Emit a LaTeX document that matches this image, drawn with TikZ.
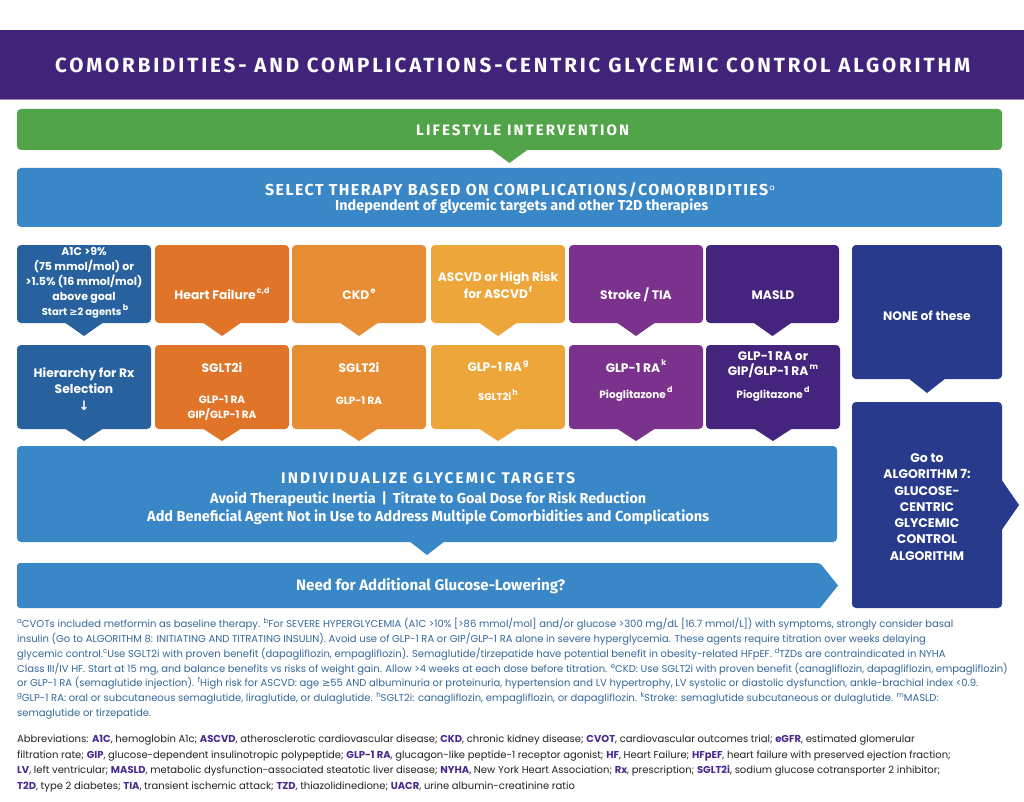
\documentclass[tikz,border=0pt]{standalone}
\usepackage{fontspec}
\usepackage{graphicx}
\setmainfont{Poppins}
\newfontfamily\capsf[LetterSpace=14]{Fira Sans}
\newfontfamily\capsg[LetterSpace=9]{Fira Sans}
\newfontfamily\condf{Fira Sans}
\newfontfamily\symf{DejaVu Sans}
\usetikzlibrary{calc}
\definecolor{hdr}{HTML}{41247A}
\definecolor{grn}{HTML}{52A448}
\definecolor{lblue}{HTML}{3A87C8}
\definecolor{dblue}{HTML}{28629E}
\definecolor{orA}{HTML}{E07428}
\definecolor{orB}{HTML}{E78E34}
\definecolor{orC}{HTML}{EDA63A}
\definecolor{purA}{HTML}{7A328C}
\definecolor{purB}{HTML}{44247C}
\definecolor{navy}{HTML}{283A8C}
\definecolor{fnc}{HTML}{35689A}
\definecolor{abtext}{HTML}{222222}
\definecolor{abp}{HTML}{4A2A90}
\newcommand\sps[1]{\kern1.2pt\raisebox{0.5em}{\fontsize{8pt}{8pt}\selectfont #1}}
\newcommand\fs[1]{\raisebox{0.4em}{\fontsize{7pt}{7pt}\selectfont #1}}
\newcommand\ab[1]{\textcolor{abp}{\textbf{#1}}}
\newcommand\gesym{{\symf ≥}}
\newcommand\mkptr[4]{\fill[#1] ($(#2)+(-#3,-1)$) -- ($(#2)+(0,#4)$) -- ($(#2)+(#3,-1)$) -- cycle;}
\begin{document}
\begin{tikzpicture}[x=1pt,y=-1pt,
  cbox/.style={rounded corners=4pt, inner sep=0pt, outer sep=0pt, anchor=north west, draw=none},
  wt/.style={text=white, font=\bfseries, align=center, inner sep=0pt},
  cond/.style={text=white, inner sep=0pt, anchor=west}]
\useasboundingbox (0,0) rectangle (1024,802);
\fill[white] (0,0) rectangle (1024,802);
% header
\fill[hdr] (0,30) rectangle (1024,100);
\draw[line width=1pt, draw=hdr!55!white] (0,99.5) -- (1024,99.5);
\node[cond] (title) at (55,65) {\resizebox{915pt}{!}{\capsf\bfseries COMORBIDITIES- AND COMPLICATIONS-CENTRIC GLYCEMIC CONTROL ALGORITHM}};
% lifestyle
\node[cbox, fill=grn, minimum width=985pt, minimum height=41pt] (life) at (17,109) {};
\mkptr{grn}{life.south}{19}{13}
\node[cond] (lifet) at (416,130) {\resizebox{213pt}{!}{\capsf\bfseries LIFESTYLE INTERVENTION}};
% select
\node[cbox, fill=lblue, minimum width=985pt, minimum height=59pt] (sel) at (17,168) {};
\node[cond] (selt) at (265,190) {\resizebox{503pt}{!}{\capsg\bfseries SELECT THERAPY BASED ON COMPLICATIONS/COMORBIDITIES}\sps{a}};
\node[cond] (selu) at (335,206.5) {\resizebox{373pt}{!}{\condf\bfseries Independent of glycemic targets and other T2D therapies}};
% row 1
\node[cbox, fill=dblue, minimum width=134pt, minimum height=78pt] (r1a) at (17,245) {};
\node[cbox, fill=orA, minimum width=134pt, minimum height=78pt] (r1b) at (155,245) {};
\node[cbox, fill=orB, minimum width=134pt, minimum height=78pt] (r1c) at (292,245) {};
\node[cbox, fill=orC, minimum width=134pt, minimum height=78pt] (r1d) at (431,245) {};
\node[cbox, fill=purA, minimum width=134pt, minimum height=78pt] (r1e) at (569,245) {};
\node[cbox, fill=purB, minimum width=133pt, minimum height=78pt] (r1f) at (706,245) {};
\node[cbox, fill=navy, minimum width=150pt, minimum height=134pt] (none) at (852,245) {};
\mkptr{dblue}{r1a.south}{20}{13}
\mkptr{orA}{r1b.south}{20}{13}
\mkptr{orB}{r1c.south}{20}{13}
\mkptr{orC}{r1d.south}{20}{13}
\mkptr{purA}{r1e.south}{20}{13}
\mkptr{purB}{r1f.south}{20}{13}
\mkptr{navy}{none.south}{19}{14}
\node[wt, font=\bfseries\fontsize{11pt}{14.8pt}\selectfont] (r1at) at (84,275.5) {A1C >9\%\\(75 mmol/mol) or\\>1.5\% (16 mmol/mol)\\above goal};
\node[wt, font=\bfseries\fontsize{10pt}{12pt}\selectfont] (r1as) at (85,311) {Start {\symf\bfseries ≥}2 agents\sps{b}};
\node[wt, font=\bfseries\fontsize{12.3pt}{15.5pt}\selectfont] (r1bt) at (222,294) {Heart Failure\sps{c,d}};
\node[wt, font=\bfseries\fontsize{12.3pt}{15.5pt}\selectfont] (r1ct) at (359,294) {CKD\sps{e}};
\node[wt, font=\bfseries\fontsize{12.3pt}{15.5pt}\selectfont] (r1dt) at (498,285) {ASCVD or High Risk\\for ASCVD\sps{f}};
\node[wt, font=\bfseries\fontsize{12.3pt}{15.5pt}\selectfont] (r1et) at (636,295) {Stroke / TIA};
\node[wt, font=\bfseries\fontsize{12.3pt}{15.5pt}\selectfont] (r1ft) at (773,295) {MASLD};
\node[wt, font=\bfseries\fontsize{12.3pt}{15.5pt}\selectfont] (nonet) at (927,316) {NONE of these};
% row 2
\node[cbox, fill=dblue, minimum width=134pt, minimum height=84pt] (r2a) at (17,345) {};
\node[cbox, fill=orA, minimum width=134pt, minimum height=84pt] (r2b) at (155,345) {};
\node[cbox, fill=orB, minimum width=134pt, minimum height=84pt] (r2c) at (292,345) {};
\node[cbox, fill=orC, minimum width=134pt, minimum height=84pt] (r2d) at (431,345) {};
\node[cbox, fill=purA, minimum width=134pt, minimum height=84pt] (r2e) at (569,345) {};
\node[cbox, fill=purB, minimum width=134pt, minimum height=84pt] (r2f) at (706,345) {};
\mkptr{dblue}{r2a.south}{20}{12}
\mkptr{orA}{r2b.south}{20}{12}
\mkptr{orB}{r2c.south}{20}{12}
\mkptr{orC}{r2d.south}{20}{12}
\mkptr{purA}{r2e.south}{20}{12}
\mkptr{purB}{r2f.south}{20}{12}
\node[wt, font=\bfseries\fontsize{12.3pt}{16pt}\selectfont] (r2at) at (84,381) {Hierarchy for Rx\\Selection};
\node[wt, font=\bfseries\fontsize{13pt}{15pt}\selectfont] (r2aa) at (84,406) {{\symf\bfseries ↓}};
\node[wt, font=\bfseries\fontsize{12.3pt}{15pt}\selectfont] (r2bt) at (222,368) {SGLT2i};
\node[wt, font=\bfseries\fontsize{10.5pt}{15pt}\selectfont] (r2bs) at (222,408.5) {GLP-1 RA\\GIP/GLP-1 RA};
\node[wt, font=\bfseries\fontsize{12.3pt}{15pt}\selectfont] (r2ct) at (359,368) {SGLT2i};
\node[wt, font=\bfseries\fontsize{10.5pt}{15pt}\selectfont] (r2cs) at (359,401) {GLP-1 RA};
\node[wt, font=\bfseries\fontsize{12.3pt}{15pt}\selectfont] (r2dt) at (498,366) {GLP-1 RA\sps{g}};
\node[wt, font=\bfseries\fontsize{10pt}{15pt}\selectfont] (r2ds) at (498,395) {SGLT2i\sps{h}};
\node[wt, font=\bfseries\fontsize{12.3pt}{15pt}\selectfont] (r2et) at (636,366) {GLP-1 RA\sps{k}};
\node[wt, font=\bfseries\fontsize{10.5pt}{15pt}\selectfont] (r2es) at (636,394) {Pioglitazone\sps{d}};
\node[wt, font=\bfseries\fontsize{12.3pt}{15pt}\selectfont] (r2ft) at (773,365) {GLP-1 RA or\\GIP/GLP-1 RA\sps{m}};
\node[wt, font=\bfseries\fontsize{10.5pt}{15pt}\selectfont] (r2fs) at (773,394) {Pioglitazone\sps{d}};
% go to
\node[cbox, fill=navy, minimum width=150pt, minimum height=206pt] (goto) at (852,402) {};
\fill[navy] ($(goto.east)+(-1,-26)$) -- ($(goto.east)+(17,0)$) -- ($(goto.east)+(-1,26)$) -- cycle;
\node[wt, font=\bfseries\fontsize{12.5pt}{16.3pt}\selectfont] (gotot) at (927,507) {Go to\\ALGORITHM 7:\\GLUCOSE-\\CENTRIC\\GLYCEMIC\\CONTROL\\ALGORITHM};
% individualize
\node[cbox, fill=lblue, minimum width=820pt, minimum height=96pt] (ind) at (17,446) {};
\mkptr{lblue}{ind.south}{18}{13}
\node[cond] (indt) at (281,478) {\resizebox{294pt}{!}{\capsf\bfseries INDIVIDUALIZE GLYCEMIC TARGETS}};
\node[cond] (inda) at (210,499) {\resizebox{436pt}{!}{\condf\bfseries Avoid Therapeutic Inertia \,|\, Titrate to Goal Dose for Risk Reduction}};
\node[cond] (indb) at (147,517) {\resizebox{562pt}{!}{\condf\bfseries Add Beneficial Agent Not in Use to Address Multiple Comorbidities and Complications}};
% need
\fill[lblue, rounded corners=3pt] (17,563) -- (820,563) [sharp corners] -- (838,585.5) -- (820,608) [rounded corners=3pt] -- (17,608) -- cycle;
\node[cond] (need) at (296,586) {\resizebox{269pt}{!}{\condf\bfseries Need for Additional Glucose-Lowering?}};
% footnotes
\node[anchor=north west, align=left, inner sep=0pt, text=fnc, font=\fontsize{10pt}{14.8pt}\selectfont] (fn) at (17,618) {%
\fs{a}CVOTs included metformin as baseline therapy. \fs{b}For SEVERE HYPERGLYCEMIA (A1C >10\% [>86 mmol/mol] and/or glucose >300 mg/dL [16.7 mmol/L]) with symptoms, strongly consider basal\\
insulin (Go to ALGORITHM 8: INITIATING AND TITRATING INSULIN). Avoid use of GLP-1 RA or GIP/GLP-1 RA alone in severe hyperglycemia. These agents require titration over weeks delaying\\
glycemic control.\fs{c}Use SGLT2i with proven benefit (dapagliflozin, empagliflozin). Semaglutide/tirzepatide have potential benefit in obesity-related HFpEF. \fs{d}TZDs are contraindicated in NYHA\\
Class III/IV HF. Start at 15 mg, and balance benefits vs risks of weight gain. Allow >4 weeks at each dose before titration. \fs{e}CKD: Use SGLT2i with proven benefit (canagliflozin, dapagliflozin, empagliflozin)\\
or GLP-1 RA (semaglutide injection). \fs{f}High risk for ASCVD: age \gesym55 AND albuminuria or proteinuria, hypertension and LV hypertrophy, LV systolic or diastolic dysfunction, ankle-brachial index <0.9.\\
\fs{g}GLP-1 RA: oral or subcutaneous semaglutide, liraglutide, or dulaglutide. \fs{h}SGLT2i: canagliflozin, empagliflozin, or dapagliflozin. \fs{k}Stroke: semaglutide subcutaneous or dulaglutide. \fs{m}MASLD:\\
semaglutide or tirzepatide.};
\node[anchor=north west, align=left, inner sep=0pt, text=abtext, font=\fontsize{10pt}{15.5pt}\selectfont] (abbr) at (17,735) {%
Abbreviations: \ab{A1C}, hemoglobin A1c; \ab{ASCVD}, atherosclerotic cardiovascular disease; \ab{CKD}, chronic kidney disease; \ab{CVOT}, cardiovascular outcomes trial; \ab{eGFR}, estimated glomerular\\
filtration rate; \ab{GIP}, glucose-dependent insulinotropic polypeptide; \ab{GLP-1 RA}, glucagon-like peptide-1 receptor agonist; \ab{HF}, Heart Failure; \ab{HFpEF}, heart failure with preserved ejection fraction;\\
\ab{LV}, left ventricular; \ab{MASLD}, metabolic dysfunction-associated steatotic liver disease; \ab{NYHA}, New York Heart Association; \ab{Rx}, prescription; \ab{SGLT2i}, sodium glucose cotransporter 2 inhibitor;\\
\ab{T2D}, type 2 diabetes; \ab{TIA}, transient ischemic attack; \ab{TZD}, thiazolidinedione; \ab{UACR}, urine albumin-creatinine ratio};
\end{tikzpicture}
\end{document}
